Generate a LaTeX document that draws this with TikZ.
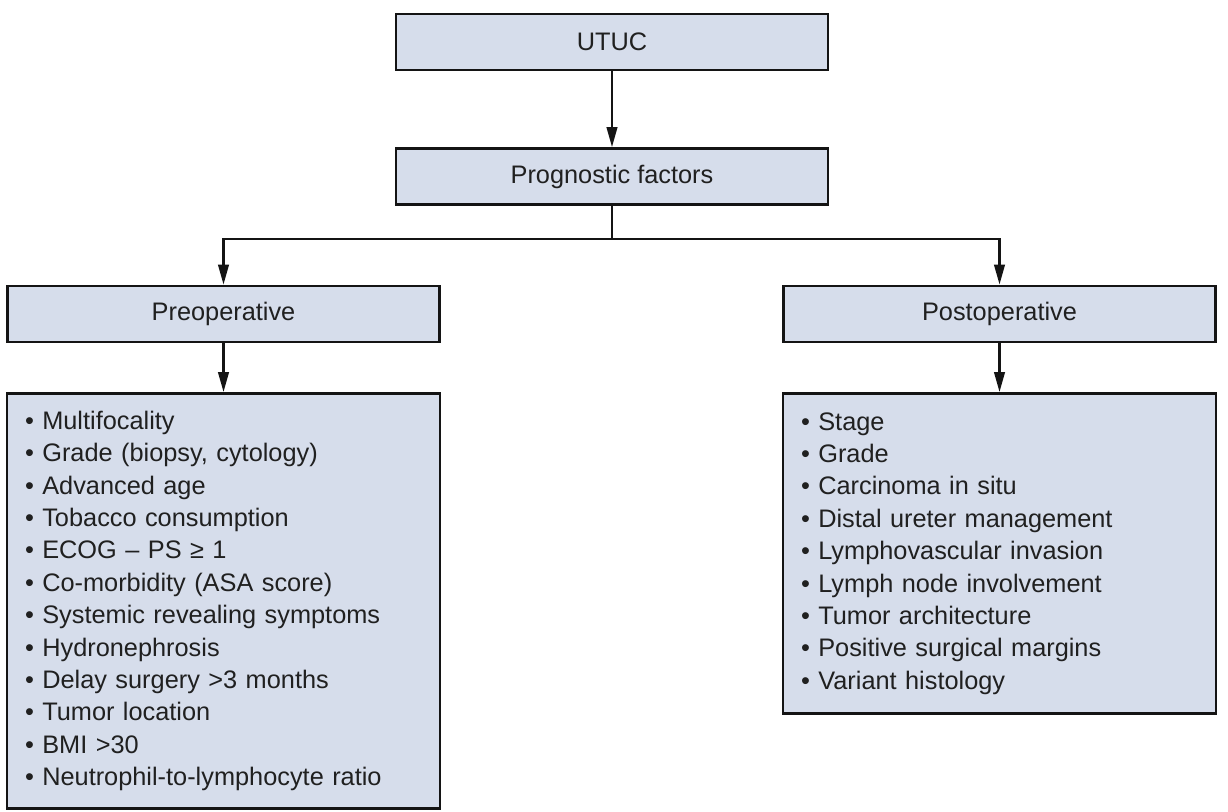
\documentclass[tikz,border=0pt]{standalone}
\usepackage{fontspec}
\setmainfont{Liberation Sans}
\usetikzlibrary{arrows.meta}
\definecolor{boxfill}{RGB}{214,221,235}
\definecolor{txt}{RGB}{32,32,32}
\definecolor{edge}{RGB}{20,20,20}
\begin{document}
\begin{tikzpicture}[x=0.75pt,y=-0.75pt,
  hdr/.style={draw=edge,line width=2.2pt,fill=boxfill,minimum width=324pt,minimum height=42pt,inner sep=0pt,text=txt,font=\fontsize{19}{22}\selectfont},
  listbox/.style={draw=edge,line width=2.2pt,fill=boxfill,text width=297.75pt,inner xsep=13.5pt,inner ysep=0pt,align=left,text=txt,font=\fontsize{19}{24.3}\selectfont,anchor=north},
  arr/.style={draw=edge,line width=1.6pt,-{Triangle[length=15pt,width=8pt]}},
  ln/.style={draw=edge,line width=1.6pt}]
\useasboundingbox[fill=white] (0,0) rectangle (1228,811);
\node[hdr] (utuc) at (612,42) {UTUC};
\node[hdr] (prog) at (612,176.5) {Prognostic factors};
\node[hdr] (pre) at (223.5,314) {Preoperative};
\node[hdr] (post) at (999.5,314) {Postoperative};
\node[listbox,minimum height=311.25pt] (prelist) at (223.5,392) {%
• Multifocality\\
• Grade (biopsy, cytology)\\
• Advanced age\\
• Tobacco consumption\\
• ECOG – PS ≥ 1\\
• Co-morbidity (ASA score)\\
• Systemic revealing symptoms\\
• Hydronephrosis\\
• Delay surgery >3 months\\
• Tumor location\\
• BMI >30\\
• Neutrophil-to-lymphocyte ratio};
\node[listbox,minimum height=240pt] (postlist) at (999.5,392) {%
• Stage\\
• Grade\\
• Carcinoma in situ\\
• Distal ureter management\\
• Lymphovascular invasion\\
• Lymph node involvement\\
• Tumor architecture\\
• Positive surgical margins\\
• Variant histology};
\coordinate (junc) at (612,239);
\draw[arr] (utuc) -- (prog);
\draw[ln] (prog.south) -- (junc);
\draw[arr] (junc) -| (pre.north);
\draw[arr] (junc) -| (post.north);
\draw[arr] (pre) -- (prelist);
\draw[arr] (post) -- (postlist);
\end{tikzpicture}
\end{document}
